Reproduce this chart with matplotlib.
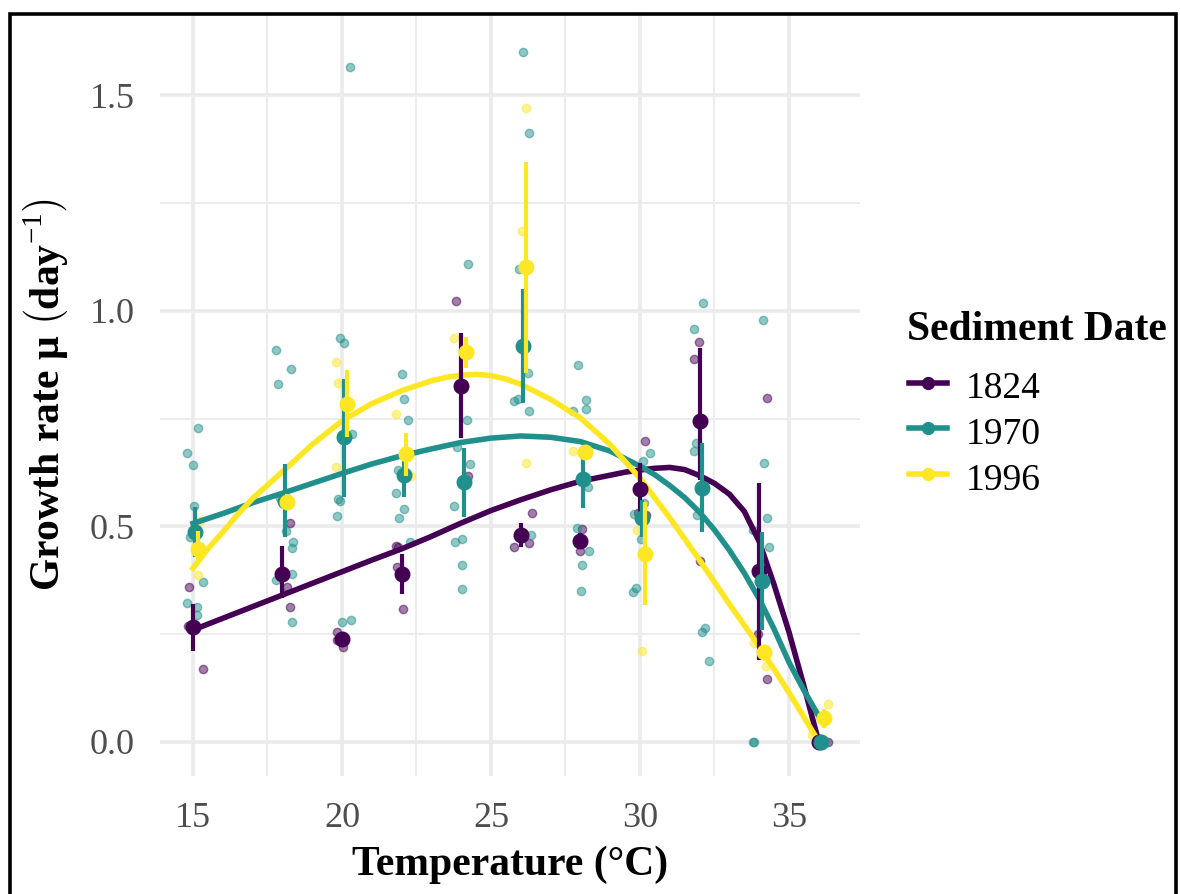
import matplotlib
matplotlib.use("Agg")
import matplotlib.pyplot as plt
from matplotlib.lines import Line2D
from matplotlib.patches import Rectangle
import numpy as np

plt.rcParams['font.family'] = ['Liberation Serif', 'DejaVu Serif']
plt.rcParams['mathtext.fontset'] = 'custom'
plt.rcParams['mathtext.rm'] = 'Liberation Serif'
plt.rcParams['mathtext.bf'] = 'Liberation Serif:bold'

# --- data ---
years = ['1824', '1970', '1996']
colors = ['#440154', '#21908C', '#FDE725']

temps = [15, 18, 20, 22, 24, 26, 28, 30, 32, 34, 36]

mean_1824 = [0.267, 0.39, 0.24, 0.39, 0.826, 0.48, 0.467, 0.587, 0.745, 0.397, 0.0]
lo_1824 = [0.21, 0.335, 0.23, 0.343, 0.705, 0.453, 0.45, 0.523, 0.608, 0.19, 0.0]
hi_1824 = [0.32, 0.455, 0.25, 0.436, 0.949, 0.509, 0.485, 0.647, 0.914, 0.60, 0.0]

mean_1970 = [0.487, 0.56, 0.707, 0.62, 0.603, 0.918, 0.61, 0.52, 0.59, 0.374, 0.0]
lo_1970 = [0.43, 0.475, 0.568, 0.569, 0.523, 0.787, 0.544, 0.476, 0.487, 0.26, 0.0]
hi_1970 = [0.545, 0.645, 0.842, 0.67, 0.681, 1.05, 0.677, 0.561, 0.694, 0.487, 0.0]

mean_1996 = [0.447, 0.557, 0.784, 0.668, 0.905, 1.102, 0.673, 0.436, np.nan, 0.209, 0.056]
lo_1996 = [0.42, 0.54, 0.707, 0.616, 0.868, 0.857, 0.66, 0.318, np.nan, 0.195, 0.032]
hi_1996 = [0.49, 0.575, 0.863, 0.716, 0.94, 1.346, 0.69, 0.557, np.nan, 0.225, 0.077]

# individual replicates (jittered temperature, growth rate)
pts_1824_T = [14.87, 14.83, 15.33, 18.26, 18.14, 18.26, 19.82, 19.82, 20.02,
              21.81, 21.89, 21.84, 22.06, 23.83, 24.24, 26.37, 25.78, 26.28,
              28.06, 27.99, 30.17, 29.94, 30.20, 31.99, 31.82, 32.01,
              34.27, 33.95, 34.27, 36.32, 36.10]
pts_1824_mu = [0.36, 0.27, 0.169, 0.508, 0.36, 0.314, 0.256, 0.237, 0.221,
               0.455, 0.453, 0.405, 0.309, 1.022, 0.616, 0.531, 0.453, 0.461,
               0.494, 0.442, 0.698, 0.531, 0.527, 0.929, 0.888, 0.42,
               0.797, 0.25, 0.145, 0.0, 0.0]

pts_1970_T = [14.81, 15.18, 14.99, 15.04, 14.90, 15.33, 14.79, 15.14, 15.14,
              17.79, 18.28, 17.86, 18.12, 18.37, 18.33, 18.33, 17.79, 18.31, 17.92,
              19.93, 20.07, 20.33, 19.86, 19.93, 19.82, 19.99, 20.29, 20.27,
              22.00, 22.08, 22.22, 21.80, 22.08, 21.92, 21.89, 22.28,
              24.18, 24.30, 23.85, 23.77, 24.02, 23.79, 24.02, 24.02, 24.23,
              26.06, 26.28, 26.23, 26.29, 25.78, 25.92, 26.34, 25.95,
              27.93, 28.18, 28.19, 27.76, 28.27, 27.90, 28.30, 28.04, 28.02,
              30.34, 30.11, 30.13, 29.80, 30.02, 29.87, 29.78,
              32.12, 31.82, 31.88, 31.82, 31.92, 32.07, 32.18, 32.33,
              34.12, 34.16, 34.25, 34.34, 33.78, 33.78, 33.83,
              35.93, 36.05, 36.00]
pts_1970_mu = [0.671, 0.729, 0.643, 0.548, 0.476, 0.372, 0.323, 0.314, 0.295,
               0.909, 0.865, 0.83, 0.49, 0.465, 0.451, 0.389, 0.376, 0.278, 0.566,
               0.937, 0.925, 0.715, 0.564, 0.558, 0.524, 0.279, 0.283, 1.566,
               0.853, 0.795, 0.747, 0.577, 0.541, 0.519, 0.631, 0.463,
               0.746, 0.644, 0.685, 0.548, 0.471, 0.463, 0.411, 0.354, 1.109,
               1.601, 1.414, 0.857, 0.769, 0.79, 0.795, 0.48, 1.097,
               0.875, 0.793, 0.773, 0.768, 0.591, 0.496, 0.444, 0.411, 0.35,
               0.671, 0.652, 0.554, 0.528, 0.47, 0.358, 0.347,
               1.019, 0.958, 0.693, 0.674, 0.527, 0.255, 0.264, 0.188,
               0.979, 0.647, 0.52, 0.453, 0.492, 0.0, 0.0,
               0.0, 0.0, 0.0]

pts_1996_T = [15.23, 15.18, 17.98, 19.79, 19.86, 19.80, 21.81, 22.31, 23.77,
              26.16, 26.05, 26.17, 27.76, 29.91, 30.06, 33.83, 34.23, 34.20,
              36.32, 35.82, 35.78]
pts_1996_mu = [0.513, 0.387, 0.57, 0.882, 0.834, 0.639, 0.761, 0.618, 0.937,
               1.472, 1.186, 0.648, 0.674, 0.492, 0.212, 0.229, 0.177, 0.20,
               0.088, 0.059, 0.016]

# fitted thermal performance curves
curve_1824_T = [15, 16, 17, 18, 19, 20, 21, 22, 23, 24, 25, 26, 27, 28, 29, 29.5,
                30, 30.5, 31, 31.5, 32, 32.5, 33, 33.5, 34, 34.5, 35, 35.5, 36]
curve_1824_mu = [0.26, 0.287, 0.314, 0.341, 0.368, 0.395, 0.422, 0.448, 0.477,
                 0.508, 0.537, 0.562, 0.585, 0.605, 0.619, 0.626, 0.631, 0.635,
                 0.637, 0.632, 0.618, 0.60, 0.575, 0.535, 0.465, 0.365, 0.255,
                 0.13, 0.0]

curve_1970_T = [15, 16, 17, 18, 19, 20, 21, 22, 23, 24, 25, 26, 27, 28, 29, 30,
                30.5, 31, 31.5, 32, 32.5, 33, 33.5, 34, 34.5, 35, 35.5, 36]
curve_1970_mu = [0.507, 0.53, 0.555, 0.577, 0.60, 0.623, 0.645, 0.664, 0.68,
                 0.695, 0.705, 0.71, 0.707, 0.697, 0.675, 0.64, 0.62, 0.595,
                 0.567, 0.533, 0.492, 0.445, 0.392, 0.332, 0.262, 0.185, 0.12, 0.06]

curve_1996_T = [15, 15.5, 16, 16.5, 17, 18, 19, 20, 21, 22, 23, 23.5, 24, 24.5,
                25, 25.5, 26, 27, 28, 29, 30, 31, 32, 33, 34, 35, 35.9]
curve_1996_mu = [0.403, 0.448, 0.487, 0.528, 0.565, 0.627, 0.69, 0.745, 0.785,
                 0.815, 0.838, 0.846, 0.851, 0.853, 0.85, 0.842, 0.83, 0.795,
                 0.752, 0.69, 0.612, 0.52, 0.422, 0.32, 0.222, 0.115, 0.012]

means = [mean_1824, mean_1970, mean_1996]
los = [lo_1824, lo_1970, lo_1996]
his = [hi_1824, hi_1970, hi_1996]
pts = [(pts_1824_T, pts_1824_mu), (pts_1970_T, pts_1970_mu), (pts_1996_T, pts_1996_mu)]
curves = [(curve_1824_T, curve_1824_mu), (curve_1970_T, curve_1970_mu),
          (curve_1996_T, curve_1996_mu)]
dodge = [0.0, 0.08, 0.16]

W, H = 1180, 894
fig = plt.figure(figsize=(W / 100, H / 100), dpi=100)
ax = fig.add_axes([160 / W, 1 - 776 / H, 700 / W, 762 / H])

for (tx, mu), c in zip(pts, colors):
    ax.plot(tx, mu, 'o', color=c, ms=6, mew=1.0, alpha=0.5, zorder=2)

for (tx, mu), c in zip(curves, colors):
    ax.plot(tx, mu, '-', color=c, lw=4.0, zorder=3, solid_joinstyle='round')

for m, lo, hi, c, d in zip(means, los, his, colors, dodge):
    xs = np.array(temps) + d
    ax.vlines(xs, lo, hi, color=c, lw=3.0, zorder=4)
    ax.plot(xs, m, 'o', color=c, ms=10.5, zorder=4)

ax.set_xlim(13.893, 37.383)
ax.set_ylim(-0.0789, 1.689)
ax.set_xticks([15, 20, 25, 30, 35])
ax.set_xticks([17.5, 22.5, 27.5, 32.5], minor=True)
ax.set_yticks([0, 0.5, 1.0, 1.5])
ax.set_yticklabels(['0.0', '0.5', '1.0', '1.5'])
ax.set_yticks([0.25, 0.75, 1.25], minor=True)
ax.grid(which='major', color='#EBEBEB', lw=2.6)
ax.grid(which='minor', color='#EBEBEB', lw=1.3)
ax.set_axisbelow(True)
for s in ax.spines.values():
    s.set_visible(False)
ax.tick_params(which='both', length=0)
ax.tick_params(axis='x', pad=19, labelsize=26, labelcolor='#4D4D4D')
ax.tick_params(axis='y', pad=18, labelsize=26, labelcolor='#4D4D4D')

fig.text(510 / W, 1 - 875 / H, 'Temperature (°C)', ha='center', va='baseline',
         fontsize=30, fontweight='bold')
fig.text(46 / W, 1 - 395 / H, r'Growth rate μ $\left(\mathbf{day}^{-1}\right)$',
         rotation=90, ha='center', va='center', fontsize=30, fontweight='bold')

# legend
fig.text(907 / W, 1 - 340 / H, 'Sediment Date', ha='left', va='baseline',
         fontsize=30, fontweight='bold')
for yr, c, yk, yb in zip(years, colors, [383, 428, 474], [398, 444, 490]):
    fig.add_artist(Line2D([909 / W, 947 / W], [1 - yk / H, 1 - yk / H],
                          transform=fig.transFigure, color=c, lw=4.0))
    fig.add_artist(Line2D([928 / W], [1 - yk / H], transform=fig.transFigure,
                          marker='o', color=c, ms=8.5))
    fig.text(966 / W, 1 - yb / H, yr, ha='left', va='baseline', fontsize=27)

fig.add_artist(Rectangle((10 / W, -0.02), 1166 / W, 1.02 - 13.5 / H,
                         transform=fig.transFigure, fill=False, ec='black', lw=2.6))

fig.savefig('out.png', dpi=100)
